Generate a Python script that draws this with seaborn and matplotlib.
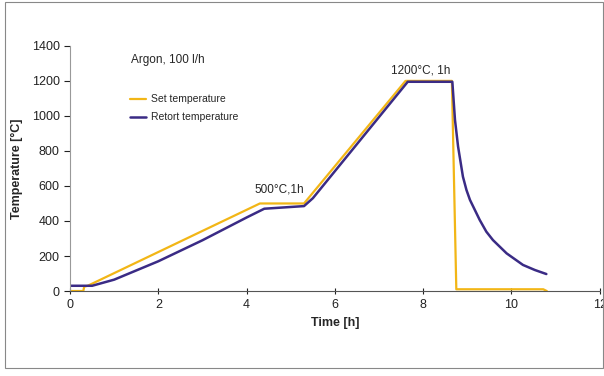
import matplotlib
matplotlib.use("Agg")
import matplotlib.pyplot as plt
import seaborn as sns
import pandas as pd

set_time = [0, 0.3, 0.32, 0.4, 4.3, 5.3, 7.6, 8.65, 8.75, 10.72, 10.8]
set_temp = [0, 0, 25, 30, 500, 500, 1200, 1200, 10, 10, 0]

ret_time = [0, 0.5, 1.0, 2.0, 3.0, 4.0, 4.4, 5.3, 5.5, 7.65, 8.66, 8.72, 8.79, 8.90,
            8.98, 9.06, 9.28, 9.43, 9.58, 9.89, 10.26, 10.53, 10.79]
ret_temp = [30, 30, 65, 170, 290, 420, 470, 485, 530, 1195, 1195, 977, 825, 653,
            577, 520, 406, 339, 291, 215, 149, 120, 97]

sns.set_style("white")
plt.rcParams['font.family'] = ['Liberation Sans', 'DejaVu Sans']

fig = plt.figure(figsize=(6.04, 3.76), dpi=100)
ax = fig.add_axes([0.116, 0.226, 0.877, 0.652])

df_set = pd.DataFrame({"t": set_time, "T": set_temp})
df_ret = pd.DataFrame({"t": ret_time, "T": ret_temp})
sns.lineplot(data=df_set, x="t", y="T", ax=ax, color="#F2B616", lw=1.6, sort=False, label="Set temperature")
sns.lineplot(data=df_ret, x="t", y="T", ax=ax, color="#3A2B85", lw=1.8, sort=False, label="Retort temperature")

ax.set_xlim(0, 12)
ax.set_ylim(0, 1400)
ax.set_xticks(range(0, 13, 2))
ax.set_yticks(range(0, 1401, 200))
ax.tick_params(axis='both', labelsize=9, colors='#222222', direction='out', length=4, width=0.8, bottom=True, left=True)
ax.tick_params(axis='x', direction='inout', length=5)
for s in ['top', 'right']:
    ax.spines[s].set_visible(False)
ax.spines['left'].set_color('#999999')
ax.spines['bottom'].set_color('#555555')
ax.set_xlabel("Time [h]", fontsize=9, fontweight='bold', labelpad=4)
ax.set_ylabel("Temperature [°C]", fontsize=9, fontweight='bold', labelpad=6)

ax.text(1.38, 1320, "Argon, 100 l/h", fontsize=8.5, ha='left', va='center')
ax.text(4.75, 545, "500°C,1h", fontsize=8.5, ha='center', va='bottom')
ax.text(7.95, 1225, "1200°C, 1h", fontsize=8.5, ha='center', va='bottom')

ax.legend(loc='upper left', bbox_to_anchor=(0.095, 0.84), frameon=False, fontsize=7.5,
          handlelength=1.6, handletextpad=0.4, labelspacing=0.75)

fig.patches.append(plt.Rectangle((0.008, 0.02), 0.99, 0.975, transform=fig.transFigure,
                                 fill=False, edgecolor='#888888', lw=0.8))

fig.savefig("out.png", dpi=100)
